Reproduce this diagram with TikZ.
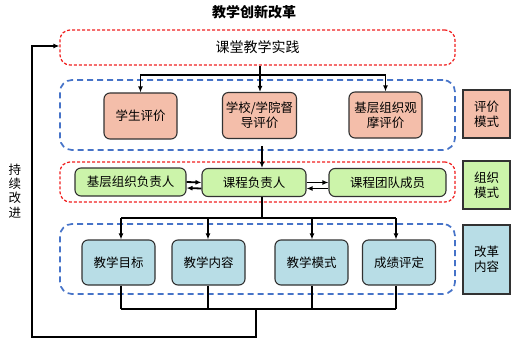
\documentclass[tikz,border=0pt]{standalone}
\usepackage{fontspec}
\setmainfont{Noto Sans CJK SC}
\definecolor{evalfill}{RGB}{244,190,170}
\definecolor{orgfill}{RGB}{204,244,170}
\definecolor{reformfill}{RGB}{184,221,230}
\definecolor{zonered}{RGB}{240,30,30}
\definecolor{zoneblue}{RGB}{70,115,200}
\definecolor{edgegray}{RGB}{50,50,50}
\usetikzlibrary{positioning,arrows.meta,calc}
\tikzset{
  zonered/.style={draw=zonered,line width=1.2pt,dash pattern=on 3pt off 2pt,
                  rounded corners=10pt,minimum width=395pt},
  zoneblue/.style={draw=zoneblue,line width=1.7pt,dash pattern=on 6pt off 4pt,
                   rounded corners=12pt,minimum width=395pt,minimum height=70pt},
  ebox/.style={draw=edgegray,fill=evalfill,line width=1.1pt,rounded corners=6pt,
               minimum width=73pt,minimum height=46pt,align=center,
               font=\fontsize{12.5}{15}\selectfont},
  obox/.style={draw=edgegray,fill=orgfill,line width=1.1pt,rounded corners=6pt,
               minimum height=28pt,align=center,font=\fontsize{12.5}{15}\selectfont},
  rbox/.style={draw=edgegray,fill=reformfill,line width=1.1pt,rounded corners=6pt,
               minimum width=73pt,minimum height=45pt,align=center,
               font=\fontsize{12.5}{15}\selectfont},
  sidebox/.style={draw=edgegray,line width=1.2pt,minimum width=47pt,
                  align=center,font=\fontsize{12.5}{15}\selectfont},
  line/.style={line width=1.8pt,black},
  arr/.style={-{Latex[length=6pt,width=5pt]},line width=1.8pt,black},
}

\begin{document}
\begin{tikzpicture}[x=1pt,y=-1pt]
  \useasboundingbox (0,0) rectangle (527,342);
  % title
  \node[font=\fontsize{14}{16}\selectfont\bfseries] (title) at (254,12) {教学创新改革};
  % zones
  \node[zonered,minimum height=35pt,font=\fontsize{14}{16}\selectfont] (practice) at (257.5,47.5) {课堂教学实践};
  \node[zoneblue] (evalzone) at (257.5,115) {};
  \node[zonered,minimum height=40pt] (orgzone) at (257.5,182) {};
  \node[zoneblue] (reformzone) at (257.5,259) {};
  % evaluation
  \node[ebox] (student) at (140.5,116) {学生评价};
  \node[ebox] (school) at (259.5,115.5) {学校/学院督\\导评价};
  \node[ebox] (peer) at (385.5,115) {基层组织观\\摩评价};
  \node[sidebox,fill=evalfill,minimum height=48pt] (evalmode) at (486.5,114) {评价\\模式};
  % organisation
  \node[obox,minimum width=111pt] (grassroots) at (130.5,182) {基层组织负责人};
  \node[obox,minimum width=104pt] (leader) at (254,182.5) {课程负责人};
  \node[obox,minimum width=117pt] (team) at (387.5,182.5) {课程团队成员};
  \node[sidebox,fill=orgfill,minimum height=48pt] (orgmode) at (486.5,185) {组织\\模式};
  % reform content
  \node[rbox] (goal) at (118.5,262.5) {教学目标};
  \node[rbox] (content) at (208.5,262.5) {教学内容};
  \node[rbox] (mode) at (311.5,262.5) {教学模式};
  \node[rbox] (grade) at (399,262.5) {成绩评定};
  \node[sidebox,fill=reformfill,minimum height=69pt] (reformmode) at (486.5,259.5) {改革\\内容};
  % loop label
  \node[align=center,font=\fontsize{12.5}{14.3}\selectfont] (loop) at (15,191) {持\\续\\改\\进};

  % connectors
  \coordinate (evalbus) at (260,75);
  \draw[line] (practice.south -| evalbus) -- (evalbus);
  \draw[arr] (evalbus) -- (school.north -| evalbus);
  \draw[arr] (evalbus) -| (student.north);
  \draw[arr] (evalbus) -| (peer.north);
  \draw[arr] ([yshift=5pt]evalzone.south -| 262,0) -- (leader.north -| 262,0);
  \draw[arr] ([yshift=0pt]grassroots.east) -- ([yshift=0pt]leader.west);
  \draw[arr] ([yshift=-6pt]leader.west) -- ([yshift=-6pt]grassroots.east);
  \draw[arr] ([yshift=0pt]leader.east) -- ([yshift=0pt]team.west);
  \draw[arr] ([yshift=-6pt]team.west) -- ([yshift=-6pt]leader.east);
  \coordinate (reformbus) at (262,218);
  \draw[line] (leader.south -| reformbus) -- (reformbus);
  \draw[line] (reformbus -| 121,0) -- (reformbus -| 396,0);
  \foreach \n/\x in {goal/121,content/208,mode/312,grade/396}
    \draw[arr] (reformbus -| \x,0) -- (\n.north -| \x,0);
  \coordinate (collect) at (256,309);
  \foreach \n/\x in {goal/121,content/208,mode/312,grade/396}
    \draw[line] (\n.south -| \x,0) -- (collect -| \x,0);
  \draw[line] (collect -| 121,0) -- (collect -| 396,0);
  \coordinate (loopcorner) at (32,337);
  \draw[arr] (collect) |- (loopcorner) |- ([yshift=1.5pt]practice.west);
\end{tikzpicture}
\end{document}
